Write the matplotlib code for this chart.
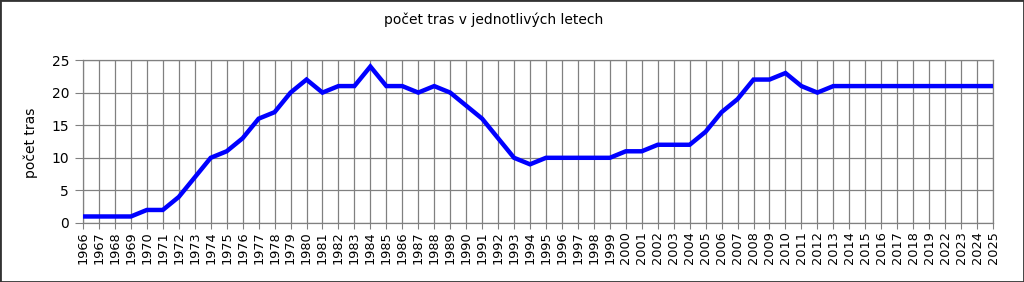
import matplotlib
matplotlib.use("Agg")
import matplotlib.pyplot as plt
from matplotlib.patches import Rectangle

years = [str(y) for y in range(1966, 2020)] + ["2022", "2023", "2024", "2025"]
values = [1, 1, 1, 1, 2, 2, 4, 7, 10, 11,
          13, 16, 17, 20, 22, 20, 21, 21, 24, 21,
          21, 20, 21, 20, 18, 16, 13, 10, 9, 10,
          10, 10, 10, 10, 11, 11, 12, 12, 12, 14,
          17, 19, 22, 22, 23, 21, 20, 21, 21, 21,
          21, 21, 21, 21, 21, 21, 21, 21]
y_ticks = [0, 5, 10, 15, 20, 25]
title = "počet tras v jednotlivých letech"
ylabel = "počet tras"

W, H = 1024, 282
fig = plt.figure(figsize=(W / 100, H / 100), dpi=100)
ax = fig.add_axes([83 / W, 1 - 223 / H, (993 - 83) / W, (223 - 60) / H])

x = list(range(len(years)))
ax.plot(x, values, color="#0000ff", linewidth=3.2, solid_joinstyle="miter", zorder=3)

ax.set_xlim(0, len(years) - 1)
ax.set_ylim(0, 25)
ax.set_yticks(y_ticks)
ax.set_xticks(x)
ax.set_xticklabels(years, rotation=90, fontsize=9.3)
ax.tick_params(axis="y", labelsize=10, length=6, color="#808080", pad=4)
ax.tick_params(axis="x", length=4, color="#808080", pad=2)
ax.grid(True, color="#808080", linewidth=0.9)
ax.set_axisbelow(True)
for s in ax.spines.values():
    s.set_color("#808080")
    s.set_linewidth(0.9)

fig.text(31 / W, 1 - 143 / H, ylabel, rotation=90, ha="center", va="center", fontsize=10)
fig.text(494 / W, 1 - 20 / H, title, ha="center", va="center", fontsize=10)

fig.patches.append(Rectangle((0, 0), 1, 1, transform=fig.transFigure,
                             fill=False, edgecolor="#333333", linewidth=2))
fig.savefig("out.png", dpi=100)
